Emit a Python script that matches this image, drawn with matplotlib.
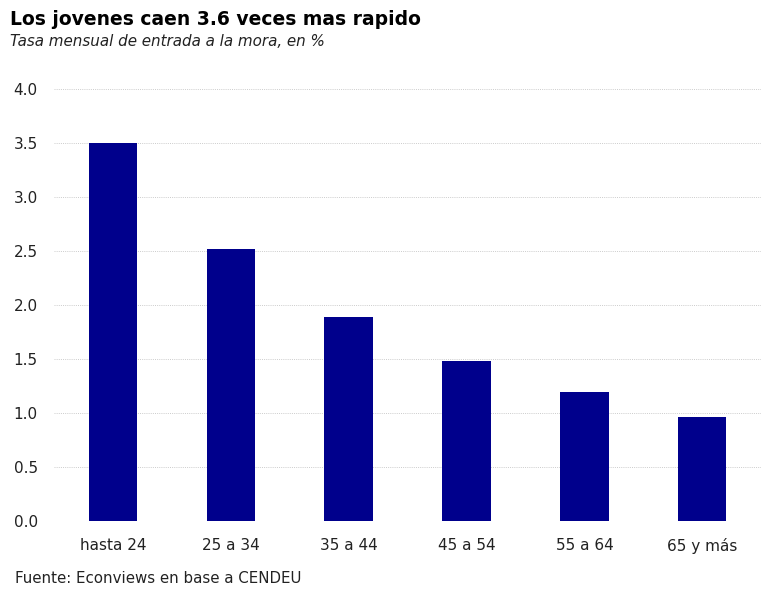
import matplotlib
matplotlib.use("Agg")
import matplotlib.pyplot as plt

# datos: tasa mensual de entrada a la mora por edad (%)
grupos = ["hasta 24", "25 a 34", "35 a 44", "45 a 54", "55 a 64", "65 y más"]
tasas = [3.5, 2.52, 1.89, 1.48, 1.19, 0.96]
yticks = [0.0, 0.5, 1.0, 1.5, 2.0, 2.5, 3.0, 3.5, 4.0]

plt.rcParams['font.family'] = ['DejaVu Sans']

fig = plt.figure(figsize=(7.8, 6.0), dpi=100)
ax = fig.add_axes([0.069, 0.1317, 0.907, 0.72])

x = range(len(grupos))
ax.bar(x, tasas, width=0.41, color="#00008C", zorder=2)

ax.set_xlim(-0.5, len(grupos) - 0.5)
ax.set_ylim(0, 4.0)
ax.set_yticks(yticks)
ax.set_yticklabels(["%.1f" % v for v in yticks])
ax.set_xticks(list(x))
ax.set_xticklabels(grupos)

ax.grid(axis="y", color="#cccccc", linestyle=(0, (1, 1.2)), linewidth=0.7, zorder=0)
for s in ax.spines.values():
    s.set_visible(False)
ax.tick_params(axis="both", length=0, labelsize=11, colors="#222222")
ax.tick_params(axis="y", pad=11.5)
ax.tick_params(axis="x", pad=12)

fig.text(0.013, 0.968, "Los jovenes caen 3.6 veces mas rapido", fontsize=13.5,
         fontweight="bold", va="center", ha="left")
fig.text(0.013, 0.930, "Tasa mensual de entrada a la mora, en %", fontsize=10.9,
         style="italic", va="center", ha="left", color="#222222")
fig.text(0.019, 0.036, "Fuente: Econviews en base a CENDEU", fontsize=10.8,
         va="center", ha="left", color="#222222")

fig.savefig("out.png", dpi=100)
